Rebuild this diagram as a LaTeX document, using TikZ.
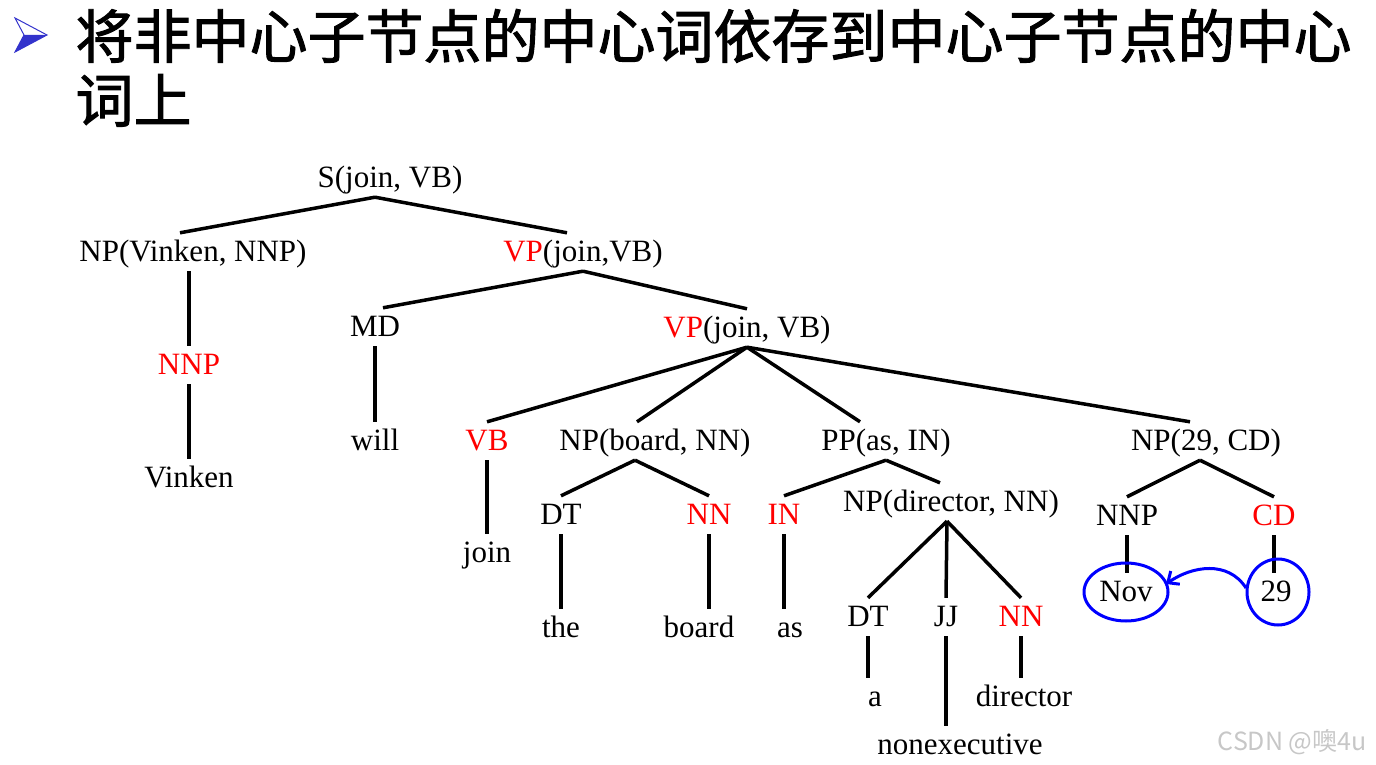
\documentclass[tikz,border=0pt]{standalone}
\usepackage{fontspec}
\setmainfont{Liberation Serif}
\newfontfamily\cjkfont{Noto Sans CJK SC}
\newfontfamily\headfont[FakeBold=1.6]{Noto Sans CJK SC}
\usepackage{tikz}
\usetikzlibrary{arrows.meta}
\definecolor{headred}{RGB}{255,0,0}
\definecolor{ringblue}{RGB}{0,0,255}
\definecolor{bulletblue}{RGB}{51,51,204}
\tikzstyle{tag} = [font=\fontsize{31}{31}\selectfont, inner xsep=0pt, inner ysep=4pt, text height=24pt, text depth=6pt]
\tikzstyle{treeline} = [line width=3.5pt]
\tikzstyle{ring} = [draw=ringblue, line width=3pt]
\tikzstyle{headline} = [anchor=base west, font=\headfont\fontsize{58}{58}\selectfont]

\begin{document}
\begin{tikzpicture}[x=1pt, y=-1pt, >={Straight Barb[length=9pt, width=16pt]}]
			\useasboundingbox (0,0) rectangle (1376,765);
			% title
			\fill[bulletblue] (24,35) -- (47,35) -- (15,52) -- cycle;
			\draw[bulletblue, line width=1pt] (15,18) -- (47,35) -- (15,52) -- (24,35) -- cycle;
			\node[headline] (title1) at (72,58) {将非中心子节点的中心词依存到中心子节点的中心};
			\node[headline] (title2) at (72,122) {词上};
			
			% tree
			\node[tag]                 (s)           at (390,178)  {S(join, VB)};
			\node[tag]                 (np-vinken)   at (193,252)  {NP(Vinken, NNP)};
			\node[tag]                 (vp-top)      at (583,252)  {\textcolor{headred}{VP}(join,VB)};
			\node[tag, text=headred]   (nnp-vinken)  at (189,365)  {NNP};
			\node[tag]                 (w-vinken)    at (189,478)  {Vinken};
			\node[tag]                 (md)          at (375,327)  {MD};
			\node[tag]                 (w-will)      at (375,441)  {will};
			\node[tag]                 (vp-mid)      at (747,328)  {\textcolor{headred}{VP}(join, VB)};
			\node[tag, text=headred]   (vb)          at (487,441)  {VB};
			\node[tag]                 (w-join)      at (487,553)  {join};
			\node[tag]                 (np-board)    at (655,441)  {NP(board, NN)};
			\node[tag]                 (pp)          at (886,441)  {PP(as, IN)};
			\node[tag]                 (np-date)     at (1206,441) {NP(29, CD)};
			\node[tag]                 (dt-the)      at (561,515)  {DT};
			\node[tag, text=headred]   (nn-board)    at (709,515)  {NN};
			\node[tag, text=headred]   (in)          at (784,515)  {IN};
			\node[tag]                 (np-director) at (951,502)  {NP(director, NN)};
			\node[tag]                 (nnp-nov)     at (1127,516) {NNP};
			\node[tag, text=headred]   (cd)          at (1274,516) {CD};
			\node[tag]                 (w-the)       at (561,628)  {the};
			\node[tag]                 (w-board)     at (699,628)  {board};
			\node[tag]                 (w-as)        at (790,628)  {as};
			\node[tag]                 (dt-a)        at (868,617)  {DT};
			\node[tag]                 (jj)          at (946,617)  {JJ};
			\node[tag, text=headred]   (nn-director) at (1021,617) {NN};
			\node[tag]                 (w-a)         at (875,697)  {a};
			\node[tag]                 (w-nonexec)   at (960,745)  {nonexecutive};
			\node[tag]                 (w-director)  at (1024,697) {director};
			\node[tag]                 (w-nov)       at (1126,592) {Nov};
			\node[tag]                 (w-29)        at (1276,592) {29};
			
			\draw[treeline] ([xshift=-15pt]s.south) -- ([xshift=-13pt]np-vinken.north);
			\draw[treeline] ([xshift=-15pt]s.south) -- ([xshift=-16pt]vp-top.north);
			\draw[treeline] (nnp-vinken.north |- np-vinken.south) -- (nnp-vinken.north);
			\draw[treeline] (nnp-vinken.south) -- (w-vinken.north);
			\draw[treeline] (vp-top.south) -- ([xshift=8pt]md.north);
			\draw[treeline] (vp-top.south) -- (vp-mid.north);
			\draw[treeline] (md.south) -- (w-will.north);
			\draw[treeline] (vp-mid.south) -- (vb.north);
			\draw[treeline] (vp-mid.south) -- ([xshift=-18pt]np-board.north);
			\draw[treeline] (vp-mid.south) -- ([xshift=-26pt]pp.north);
			\draw[treeline] (vp-mid.south) -- ([xshift=-16pt]np-date.north);
			\draw[treeline] (vb.south) -- (w-join.north);
			\draw[treeline] ([xshift=-20pt]np-board.south) -- (dt-the.north);
			\draw[treeline] ([xshift=-20pt]np-board.south) -- (nn-board.north);
			\draw[treeline] (dt-the.south) -- (w-the.north);
			\draw[treeline] (nn-board.south) -- (nn-board.south |- w-board.north);
			\draw[treeline] (pp.south) -- (in.north);
			\draw[treeline] (pp.south) -- ([xshift=-11pt]np-director.north);
			\draw[treeline] (in.south) -- (in.south |- w-as.north);
			\draw[treeline] ([xshift=-4pt]np-director.south) -- (dt-a.north);
			\draw[treeline] ([xshift=-4pt]np-director.south) -- (jj.north);
			\draw[treeline] ([xshift=-4pt]np-director.south) -- (nn-director.north);
			\draw[treeline] (dt-a.south) -- (dt-a.south |- w-a.north);
			\draw[treeline] (jj.south) -- (jj.south |- w-nonexec.north);
			\draw[treeline] (nn-director.south) -- (nn-director.south |- w-director.north);
			\draw[treeline] ([xshift=-6pt]np-date.south) -- (nnp-nov.north);
			\draw[treeline] ([xshift=-6pt]np-date.south) -- (cd.north);
			\draw[treeline] (nnp-nov.south) -- (nnp-nov.south |- w-nov.north);
			\draw[treeline] (cd.south) -- (cd.south |- w-29.north);
			
			% head marking
			\draw[ring] (w-nov) ellipse [x radius=42pt, y radius=29pt];
			\draw[ring] ([xshift=2pt]w-29.center) ellipse [x radius=31pt, y radius=33pt];
			\draw[ring, ->] ([shift={(-30,-4)}]w-29.center) .. controls (1228,560) and (1192,566) .. ([shift={(40,-8)}]w-nov.center);
			
			\node[anchor=east, font=\cjkfont\fontsize{25}{25}\selectfont, text=black!22] (mark) at (1370,742) {CSDN @噢4u};
		\end{tikzpicture}
\end{document}
